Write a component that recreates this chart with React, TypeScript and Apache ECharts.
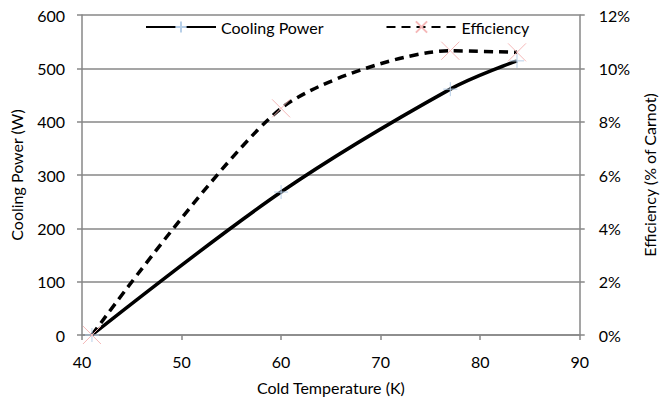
import React, { useEffect, useRef } from "react";
import * as echarts from "echarts";

const temperatures = [41, 60, 77, 83.7];
const coolingPower = [0, 268, 461, 514];
const efficiency = [0, 8.5, 10.66, 10.6];

const xTicks = { min: 40, max: 90, interval: 10 };
const powerTicks = { min: 0, max: 600, interval: 100 };
const effTicks = { min: 0, max: 12, interval: 2 };

const FONT = "Lato";
const GRAY = "#878787";

export default function App() {
  const ref = useRef<HTMLDivElement>(null);
  useEffect(() => {
    if (!ref.current) return;
    const chart = echarts.init(ref.current, undefined, { renderer: "svg" });
    const textStyle = { fontFamily: FONT, fontSize: 16, color: "#000" };
    chart.setOption({
      animation: false,
      textStyle,
      grid: { left: 79, right: 75, top: 15, bottom: 65 },
      legend: {
        left: 140,
        top: 14,
        itemWidth: 70,
        itemHeight: 14,
        itemGap: 62,
        textStyle: { ...textStyle },
        data: ["Cooling Power", "Efficiency"],
      },
      xAxis: {
        type: "value",
        ...xTicks,
        name: "Cold Temperature (K)",
        nameLocation: "middle",
        nameGap: 44,
        nameTextStyle: { ...textStyle },
        axisLine: { show: true, onZero: false, lineStyle: { color: GRAY, width: 1.5 } },
        axisTick: { show: true, length: 5, lineStyle: { color: GRAY, width: 1.5 } },
        axisLabel: { ...textStyle, margin: 18 },
        splitLine: { show: false },
      },
      yAxis: [
        {
          type: "value",
          ...powerTicks,
          name: "Cooling Power (W)",
          nameLocation: "middle",
          nameGap: 58,
          nameTextStyle: { ...textStyle },
          axisLine: { show: true, lineStyle: { color: GRAY, width: 1.5 } },
          axisTick: { show: true, length: 5, lineStyle: { color: GRAY, width: 1.5 } },
          axisLabel: { ...textStyle, margin: 17 },
          splitLine: { show: true, lineStyle: { color: GRAY, width: 1.5 } },
        },
        {
          type: "value",
          position: "right",
          ...effTicks,
          name: "Efficiency (% of Carnot)",
          nameLocation: "middle",
          nameGap: 60,
          nameTextStyle: { ...textStyle },
          axisLine: { show: true, lineStyle: { color: GRAY, width: 1.5 } },
          axisTick: { show: true, length: 5, lineStyle: { color: GRAY, width: 1.5 } },
          axisLabel: { ...textStyle, margin: 19, formatter: "{value}%" },
          splitLine: { show: false },
        },
      ],
      series: [
        {
          name: "Cooling Power",
          type: "line",
          yAxisIndex: 0,
          smooth: 0.35,
          data: temperatures.map((t, i) => [t, coolingPower[i]]),
          symbol: "path://M5,0L5,10M0,5L10,5",
          symbolSize: 14,
          itemStyle: { color: "transparent", borderColor: "#b7cfe8", borderWidth: 1 },
          lineStyle: { color: "#000", width: 3.5 },
          z: 3,
        },
        {
          name: "Efficiency",
          type: "line",
          yAxisIndex: 1,
          smooth: 0.25,
          data: temperatures.map((t, i) => [t, efficiency[i]]),
          symbol: "path://M0,0L10,10M10,0L0,10",
          symbolSize: 18,
          itemStyle: { color: "transparent", borderColor: "#f5b8b8", borderWidth: 1 },
          lineStyle: { color: "#000", width: 3.5, type: [9, 6] },
          z: 3,
        },
      ],
    });
    return () => chart.dispose();
  }, []);
  return <div ref={ref} style={{ width: 665, height: 400, position: "absolute", left: 0, top: 0 }} />;
}
